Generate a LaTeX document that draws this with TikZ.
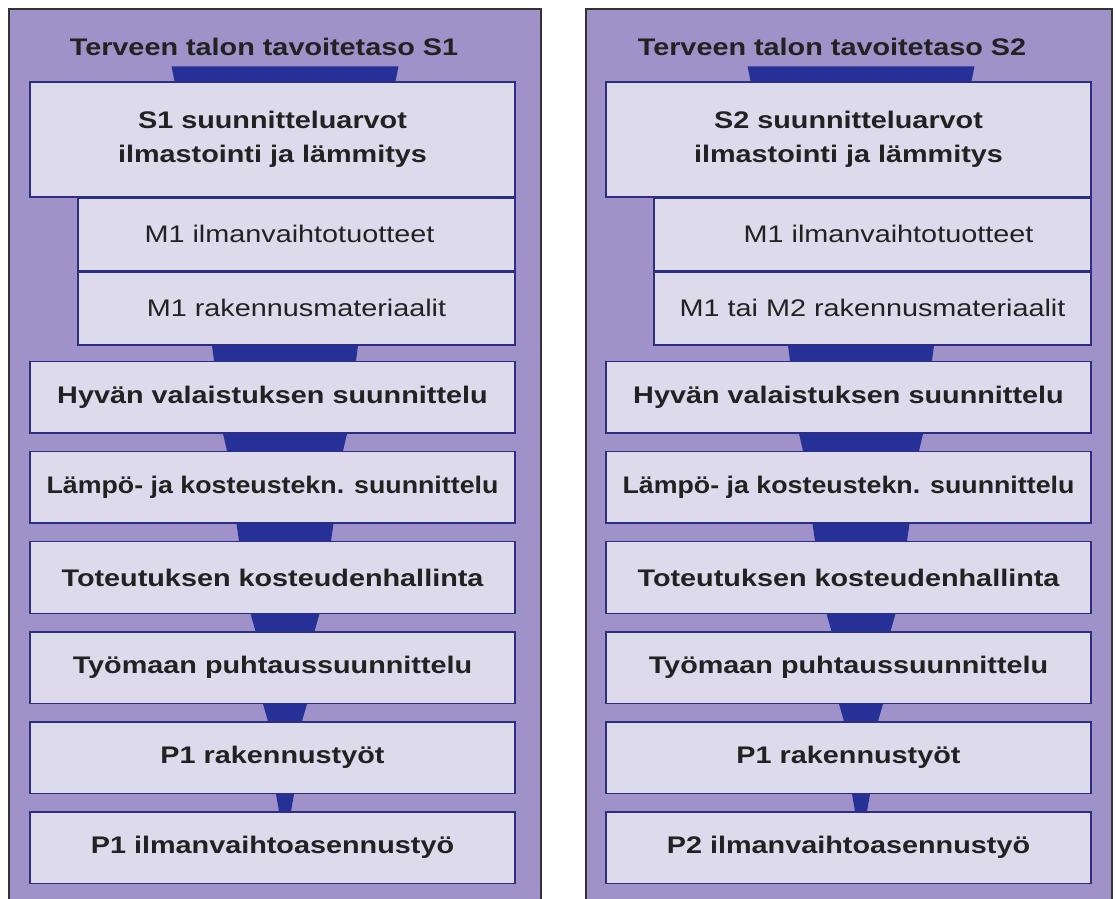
\documentclass[tikz,border=0pt]{standalone}
\usepackage{fontspec}
\newfontfamily\kaaviofont[FakeStretch=1.2]{Liberation Sans}
\definecolor{tausta}{HTML}{9E92C8}
\definecolor{laatikko}{HTML}{DDDAEC}
\definecolor{reuna}{HTML}{2D2D82}
\definecolor{sininen}{HTML}{263096}
\definecolor{teksti}{HTML}{222222}
\tikzset{
  paneeli/.style={fill=tausta, draw=black!80, line width=1.6pt},
  isolaatikko/.style={draw=reuna, fill=laatikko, line width=1.4pt, minimum width=485pt,
    inner sep=0pt, text=teksti, align=center,
    font=\kaaviofont\bfseries\fontsize{24}{34}\selectfont},
  alilaatikko/.style={isolaatikko, minimum width=437pt,
    font=\kaaviofont\fontsize{24}{34}\selectfont},
  otsikko/.style={text=teksti, inner sep=0pt, font=\kaaviofont\bfseries\fontsize{24}{34}\selectfont},
  suppilo/.style={fill=sininen}
}
\begin{document}
\begin{tikzpicture}[x=1pt,y=-1pt]
    \useasboundingbox (0,0) rectangle (1115,898);
    \foreach \p/\dx/\l/\r/\tx/\o/\s/\m/\q in {
        1/0/9/541/264/-14/S1/M1 rakennusmateriaalit/P1,
        2/576/10/536/256/32/S2/M1 tai M2 rakennusmateriaalit/P2} {
    \begin{scope}[xshift=\dx pt]
        % Paneeli
        \draw[paneeli] (\l,9) rectangle (\r,902);
        \node[otsikko] (t\p) at (\tx,47) {Terveen talon tavoitetaso \s};
        \node[isolaatikko, minimum height=115pt] (s\p) at (272.5,139.5) {\s{} suunnitteluarvot\\ilmastointi ja lämmitys};
        \node[alilaatikko, minimum height=72pt, anchor=north east] (a\p) at (s\p.south east) {\hspace*{\o pt}M1 ilmanvaihtotuotteet};
        \node[alilaatikko, minimum height=73pt, anchor=north] (b\p) at (a\p.south) {\m};
        \foreach \i/\y/\txt in {
            1/397.25/Hyvän valaistuksen suunnittelu,
            2/487.35/{\scalebox{0.93}[1]{Lämpö- ja kosteustekn. suunnittelu}},
            3/577.45/Toteutuksen kosteudenhallinta,
            4/667.55/Työmaan puhtaussuunnittelu,
            5/757.65/P1 rakennustyöt,
            6/847.75/\q{} ilmanvaihtoasennustyö} {
            \node[isolaatikko, minimum height=71.5pt] (k\p-\i) at (272.5,\y) {\txt};
        }
        % Suppilot
        \fill[suppilo] ([yshift=15pt]s\p.north -| 171.5,0) -- ([yshift=15pt]s\p.north -| 398.5,0)
            -- (s\p.north -| 395.5,0) -- (s\p.north -| 174.5,0) -- cycle;
        \foreach \a/\b/\w/\v in {
            b\p/k\p-1/73/71,
            k\p-1/k\p-2/62/58,
            k\p-2/k\p-3/48.5/46,
            k\p-3/k\p-4/34.5/29.5,
            k\p-4/k\p-5/22/17,
            k\p-5/k\p-6/9/6} {
            \fill[suppilo] (\a.south -| {285-\w},0) -- (\a.south -| {285+\w},0)
                -- (\b.north -| {285+\v},0) -- (\b.north -| {285-\v},0) -- cycle;
        }
    \end{scope}
    }
\end{tikzpicture}
\end{document}
